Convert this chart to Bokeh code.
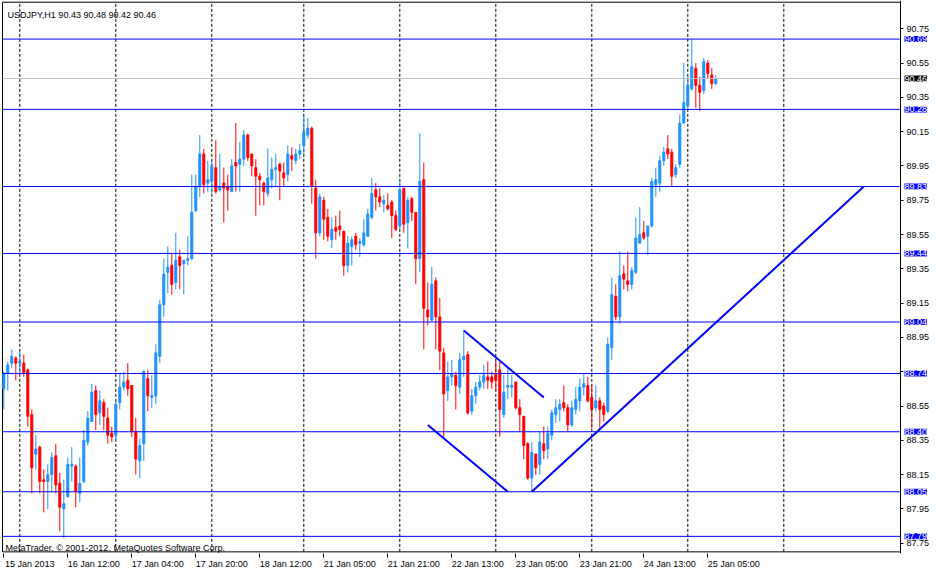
import pandas as pd
from bokeh.plotting import figure
from bokeh.models import (ColumnDataSource, FixedTicker, Range1d, Label, LabelSet, LinearAxis,
                          PrintfTickFormatter)
from bokeh.embed import file_html
from bokeh.resources import INLINE

symbol = "USDJPY,H1"
copyright_text = "MetaTrader, \u00a9 2001-2012, MetaQuotes Software Corp."

opens = [88.65, 88.74, 88.80, 88.83, 88.80, 88.80, 88.76, 88.50, 88.27, 88.31,
         88.12, 88.11, 88.15, 88.26, 88.10, 87.95, 88.02, 88.20, 88.20, 88.04,
         88.11, 88.34, 88.46, 88.64, 88.51, 88.57, 88.48, 88.39, 88.38, 88.57,
         88.66, 88.70, 88.67, 88.40, 88.23, 88.33, 88.71, 88.60, 88.61, 88.84,
         89.14, 89.33, 89.37, 89.27, 89.42, 89.38, 89.40, 89.41, 89.69, 89.83,
         90.02, 89.85, 89.86, 89.94, 89.81, 89.85, 89.83, 89.80, 89.97, 89.96,
         89.99, 90.13, 90.02, 89.94, 89.89, 89.85, 89.79, 89.87, 89.93, 89.96,
         89.91, 89.90, 90.01, 89.98, 90.02, 90.07, 90.13, 90.17, 89.82, 89.56,
         89.75, 89.65, 89.52, 89.59, 89.60, 89.57, 89.37, 89.48, 89.54, 89.50,
         89.49, 89.54, 89.65, 89.81, 89.77, 89.73, 89.72, 89.74, 89.66, 89.60,
         89.82, 89.62, 89.76, 89.68, 89.41, 89.87, 89.11, 89.05, 89.28, 89.07,
         88.86, 88.64, 88.72, 88.73, 88.66, 88.82, 88.85, 88.52, 88.61, 88.66,
         88.69, 88.72, 88.72, 88.74, 88.76, 88.50, 88.66, 88.66, 88.69, 88.54,
         88.49, 88.33, 88.13, 88.27, 88.21, 88.33, 88.30, 88.38, 88.50, 88.53,
         88.57, 88.54, 88.44, 88.53, 88.58, 88.66, 88.67, 88.60, 88.54, 88.58,
         88.55, 88.52, 88.89, 89.19, 89.07, 89.32, 89.28, 89.26, 89.33, 89.50,
         89.56, 89.54, 89.60, 89.84, 89.85, 89.98, 90.05, 90.03, 89.90, 89.96,
         90.20, 90.30, 90.40, 90.52, 90.42, 90.39, 90.55, 90.48, 90.43]
highs = [88.75, 88.81, 88.88, 88.84, 88.87, 88.85, 88.77, 88.53, 88.38, 88.32,
         88.18, 88.21, 88.28, 88.33, 88.16, 88.12, 88.25, 88.31, 88.21, 88.25,
         88.41, 88.52, 88.68, 88.67, 88.64, 88.59, 88.54, 88.43, 88.58, 88.74,
         88.75, 88.80, 88.67, 88.48, 88.36, 88.76, 88.76, 88.73, 88.91, 89.17,
         89.41, 89.48, 89.44, 89.56, 89.46, 89.40, 89.54, 89.90, 89.90, 90.13,
         90.05, 89.98, 89.98, 90.10, 90.02, 89.94, 89.90, 89.99, 90.20, 90.09,
         90.16, 90.14, 90.02, 89.99, 89.91, 89.86, 90.05, 90.00, 90.02, 89.97,
         89.97, 90.07, 90.06, 90.05, 90.08, 90.24, 90.23, 90.18, 89.87, 89.79,
         89.77, 89.70, 89.65, 89.66, 89.69, 89.57, 89.54, 89.54, 89.56, 89.53,
         89.64, 89.70, 89.88, 89.85, 89.82, 89.78, 89.79, 89.75, 89.69, 89.87,
         89.82, 89.77, 89.77, 89.68, 90.14, 89.97, 89.27, 89.36, 89.30, 89.18,
         88.89, 88.81, 88.82, 88.75, 88.86, 88.99, 88.87, 88.65, 88.69, 88.73,
         88.79, 88.81, 88.75, 88.81, 88.81, 88.73, 88.77, 88.73, 88.69, 88.59,
         88.49, 88.34, 88.34, 88.27, 88.40, 88.43, 88.43, 88.53, 88.59, 88.59,
         88.67, 88.56, 88.58, 88.66, 88.71, 88.74, 88.72, 88.67, 88.67, 88.60,
         88.57, 88.95, 89.30, 89.26, 89.45, 89.37, 89.45, 89.36, 89.65, 89.71,
         89.63, 89.60, 89.88, 89.94, 90.01, 90.06, 90.13, 90.05, 89.96, 90.25,
         90.55, 90.47, 90.69, 90.55, 90.47, 90.58, 90.57, 90.52, 90.48]
lows = [88.53, 88.64, 88.77, 88.70, 88.74, 88.72, 88.43, 88.04, 88.18, 88.04,
        87.93, 87.95, 88.05, 88.04, 87.82, 87.78, 88.02, 88.11, 87.96, 87.99,
        88.10, 88.32, 88.46, 88.41, 88.44, 88.41, 88.33, 88.34, 88.34, 88.53,
        88.64, 88.61, 88.37, 88.15, 88.13, 88.23, 88.52, 88.54, 88.56, 88.80,
        89.07, 89.21, 89.20, 89.23, 89.23, 89.20, 89.37, 89.40, 89.68, 89.77,
        89.79, 89.80, 89.79, 89.79, 89.80, 89.62, 89.69, 89.80, 89.80, 89.80,
        89.95, 89.98, 89.89, 89.66, 89.72, 89.72, 89.77, 89.82, 89.83, 89.75,
        89.83, 89.86, 89.92, 89.96, 89.99, 90.01, 90.11, 89.73, 89.41, 89.54,
        89.52, 89.51, 89.47, 89.52, 89.54, 89.31, 89.33, 89.37, 89.46, 89.42,
        89.48, 89.54, 89.64, 89.69, 89.71, 89.68, 89.69, 89.53, 89.57, 89.58,
        89.56, 89.47, 89.63, 89.26, 89.33, 88.88, 89.02, 89.05, 88.88, 88.76,
        88.37, 88.58, 88.67, 88.53, 88.62, 88.72, 88.50, 88.50, 88.56, 88.64,
        88.65, 88.65, 88.65, 88.64, 88.37, 88.48, 88.59, 88.60, 88.53, 88.40,
        88.24, 88.12, 88.05, 88.15, 88.15, 88.24, 88.24, 88.35, 88.45, 88.46,
        88.52, 88.40, 88.43, 88.50, 88.52, 88.61, 88.57, 88.42, 88.52, 88.41,
        88.46, 88.51, 88.82, 89.05, 89.03, 89.23, 89.22, 89.23, 89.32, 89.50,
        89.52, 89.43, 89.59, 89.77, 89.80, 89.95, 89.99, 89.83, 89.88, 89.94,
        90.20, 90.28, 90.39, 90.29, 90.27, 90.37, 90.46, 90.40, 90.42]
closes = [88.74, 88.79, 88.84, 88.80, 88.81, 88.74, 88.49, 88.19, 88.30, 88.11,
          88.11, 88.15, 88.25, 88.09, 87.96, 87.98, 88.21, 88.21, 88.05, 88.10,
          88.35, 88.48, 88.63, 88.50, 88.58, 88.49, 88.38, 88.37, 88.56, 88.66,
          88.69, 88.65, 88.40, 88.24, 88.32, 88.75, 88.61, 88.61, 88.86, 89.14,
          89.32, 89.36, 89.26, 89.40, 89.37, 89.40, 89.41, 89.68, 89.83, 90.02,
          89.84, 89.87, 89.95, 89.80, 89.83, 89.82, 89.81, 89.95, 89.95, 89.99,
          90.13, 90.00, 89.95, 89.89, 89.87, 89.80, 89.88, 89.93, 89.94, 89.92,
          89.88, 90.02, 89.99, 90.02, 90.04, 90.15, 90.17, 89.83, 89.56, 89.77,
          89.64, 89.54, 89.58, 89.57, 89.58, 89.37, 89.50, 89.52, 89.49, 89.51,
          89.56, 89.67, 89.79, 89.77, 89.74, 89.75, 89.70, 89.66, 89.58, 89.81,
          89.61, 89.75, 89.68, 89.41, 89.86, 89.12, 89.07, 89.26, 89.07, 88.87,
          88.62, 88.72, 88.74, 88.67, 88.82, 88.84, 88.51, 88.61, 88.66, 88.69,
          88.73, 88.70, 88.69, 88.70, 88.53, 88.63, 88.67, 88.67, 88.54, 88.50,
          88.32, 88.13, 88.28, 88.19, 88.34, 88.29, 88.39, 88.51, 88.54, 88.56,
          88.54, 88.44, 88.54, 88.59, 88.66, 88.68, 88.58, 88.53, 88.58, 88.53,
          88.50, 88.91, 89.20, 89.07, 89.31, 89.29, 89.26, 89.34, 89.53, 89.55,
          89.53, 89.60, 89.86, 89.87, 89.98, 90.03, 90.02, 89.89, 89.94, 90.20,
          90.32, 90.42, 90.53, 90.42, 90.38, 90.56, 90.49, 90.43, 90.46]

levels = [90.69, 90.28, 89.83, 89.44, 89.04, 88.74, 88.40, 88.05, 87.79]
bid = 90.46
price_ticks = [87.75, 87.95, 88.15, 88.35, 88.55, 88.75, 88.95, 89.15,
               89.35, 89.55, 89.75, 89.95, 90.15, 90.35, 90.55, 90.75]

# trend lines (bar index, price)
trend_x0 = [106, 115, 132]
trend_y0 = [88.44, 88.99, 88.05]
trend_x1 = [126, 135, 215]
trend_y1 = [88.05, 88.60, 89.83]

# bar times (hourly, weekend gap)
n = len(opens)
times = list(pd.date_range("2013-01-15 20:00", "2013-01-18 22:00", freq="h"))
times += list(pd.date_range("2013-01-21 00:00", periods=n - len(times), freq="h"))

xs = list(range(n))
tick_idx = list(range(0, n, 16))
LABEL_SHIFT = 6.5  # labels start at their tick (MetaTrader style)
label_pos = [i + LABEL_SHIFT for i in tick_idx]
tick_labels = {}
for k, i in enumerate(tick_idx):
    t = times[i]
    tick_labels[i + LABEL_SHIFT] = t.strftime("%d %b %Y") if k == 0 else t.strftime("%d %b %H:%M")
seps = [i for i in range(1, n) if times[i].date() != times[i - 1].date()]
seps.append(seps[-1] + 24)

BULL = "#1E90FF"
BEAR = "#FF0000"
BLUE = "#0000FF"
colors = [BULL if c >= o else BEAR for o, c in zip(opens, closes)]
src = ColumnDataSource(dict(
    x=xs, high=highs, low=lows,
    top=[max(o, c) for o, c in zip(opens, closes)],
    bottom=[min(o, c) for o, c in zip(opens, closes)],
    color=colors,
))

FONT = "Liberation Sans"
FS = "9px"

# chart window (price pane) extents, the frame also covers the price scale area
BOX_LEFT, BOX_RIGHT = -0.325, 224.175
BOX_BOTTOM, BOX_TOP = 87.6995, 90.905

p = figure(frame_width=930, frame_height=553,
           x_range=Range1d(-0.825, 231.675), y_range=Range1d(87.69, 90.915),
           output_backend="svg", toolbar_location=None, y_axis_location=None,
           min_border_left=0, min_border_top=0, min_border_right=0, min_border_bottom=16,
           background_fill_color="white", border_fill_color="white")
p.outline_line_color = None
p.grid.visible = False

# pane border
p.quad(left=[BOX_LEFT], right=[BOX_RIGHT], bottom=[BOX_BOTTOM], top=[BOX_TOP],
       fill_color=None, line_color="black", line_width=1)

# day separators
sep_src = ColumnDataSource(dict(x=seps, y0=[BOX_BOTTOM] * len(seps), y1=[BOX_TOP] * len(seps)))
p.segment(x0="x", y0="y0", x1="x", y1="y1", source=sep_src,
          line_color="black", line_dash="3 2", line_width=1)

# candles
p.segment(x0="x", y0="low", x1="x", y1="high", line_color="color", line_width=1, source=src)
p.vbar(x="x", width=0.5, top="top", bottom="bottom", fill_color="color",
       line_color="color", line_width=1, source=src)

# bid line and horizontal levels
p.segment(x0=[BOX_LEFT], y0=[bid], x1=[BOX_RIGHT], y1=[bid], line_color="#C0C0C0", line_width=1)
p.segment(x0=[BOX_LEFT] * len(levels), y0=levels, x1=[BOX_RIGHT] * len(levels), y1=levels,
          line_color=BLUE, line_width=1)

# trend lines
p.segment(x0=trend_x0, y0=trend_y0, x1=trend_x1, y1=trend_y1, line_color=BLUE, line_width=2)

# time axis
xa = p.xaxis[0]
xa.ticker = FixedTicker(ticks=label_pos, minor_ticks=tick_idx)
xa.major_label_overrides = tick_labels
xa.major_label_text_font = FONT
xa.major_label_text_font_size = FS
xa.major_label_text_color = "black"
xa.major_label_standoff = 1
xa.major_tick_out = 4
xa.major_tick_in = 0
xa.major_tick_line_color = None
xa.minor_tick_out = 4
xa.minor_tick_in = 0
xa.minor_tick_line_color = "black"
xa.axis_line_color = None

# price axis, drawn on the right edge of the price pane
ya = LinearAxis(ticker=FixedTicker(ticks=price_ticks),
                formatter=PrintfTickFormatter(format="%.2f"),
                fixed_location=BOX_RIGHT)
ya.major_label_overrides = {88.75: ""}
ya.major_label_text_font = FONT
ya.major_label_text_font_size = FS
ya.major_label_text_color = "black"
ya.major_label_standoff = 3
ya.major_tick_out = 3
ya.major_tick_in = 0
ya.minor_tick_line_color = None
ya.axis_line_color = "black"
ya.major_tick_line_color = "black"
p.add_layout(ya, "right")

# price tags on the price scale
TAG_X = BOX_RIGHT + 1.0

def tags(vals, bg):
    s = ColumnDataSource(dict(x=[TAG_X] * len(vals), y=vals, txt=[f"{v:.2f}" for v in vals]))
    ls = LabelSet(x="x", y="y", text="txt", source=s,
                  text_color="white", background_fill_color=bg,
                  text_font={"value": FONT}, text_font_size={"value": FS},
                  text_baseline="middle", text_align="left")
    if "padding" in LabelSet.properties():
        for pad in [(2, 0), 2]:
            try:
                ls.padding = pad
                break
            except Exception:
                pass
    p.add_layout(ls)

tags(levels, BLUE)
tags([bid], "black")

title = f"{symbol}  {opens[-1]:.2f} {highs[-1]:.2f} {lows[-1]:.2f} {closes[-1]:.2f}"
p.add_layout(Label(x=0.93, y=90.832, text=title, text_font=FONT, text_font_size=FS,
                   text_color="black", text_baseline="alphabetic"))
p.add_layout(Label(x=0.43, y=87.7225, text=copyright_text, text_font=FONT, text_font_size=FS,
                   text_color="black", text_baseline="alphabetic"))

open("out.html", "w").write(file_html(p, INLINE))
